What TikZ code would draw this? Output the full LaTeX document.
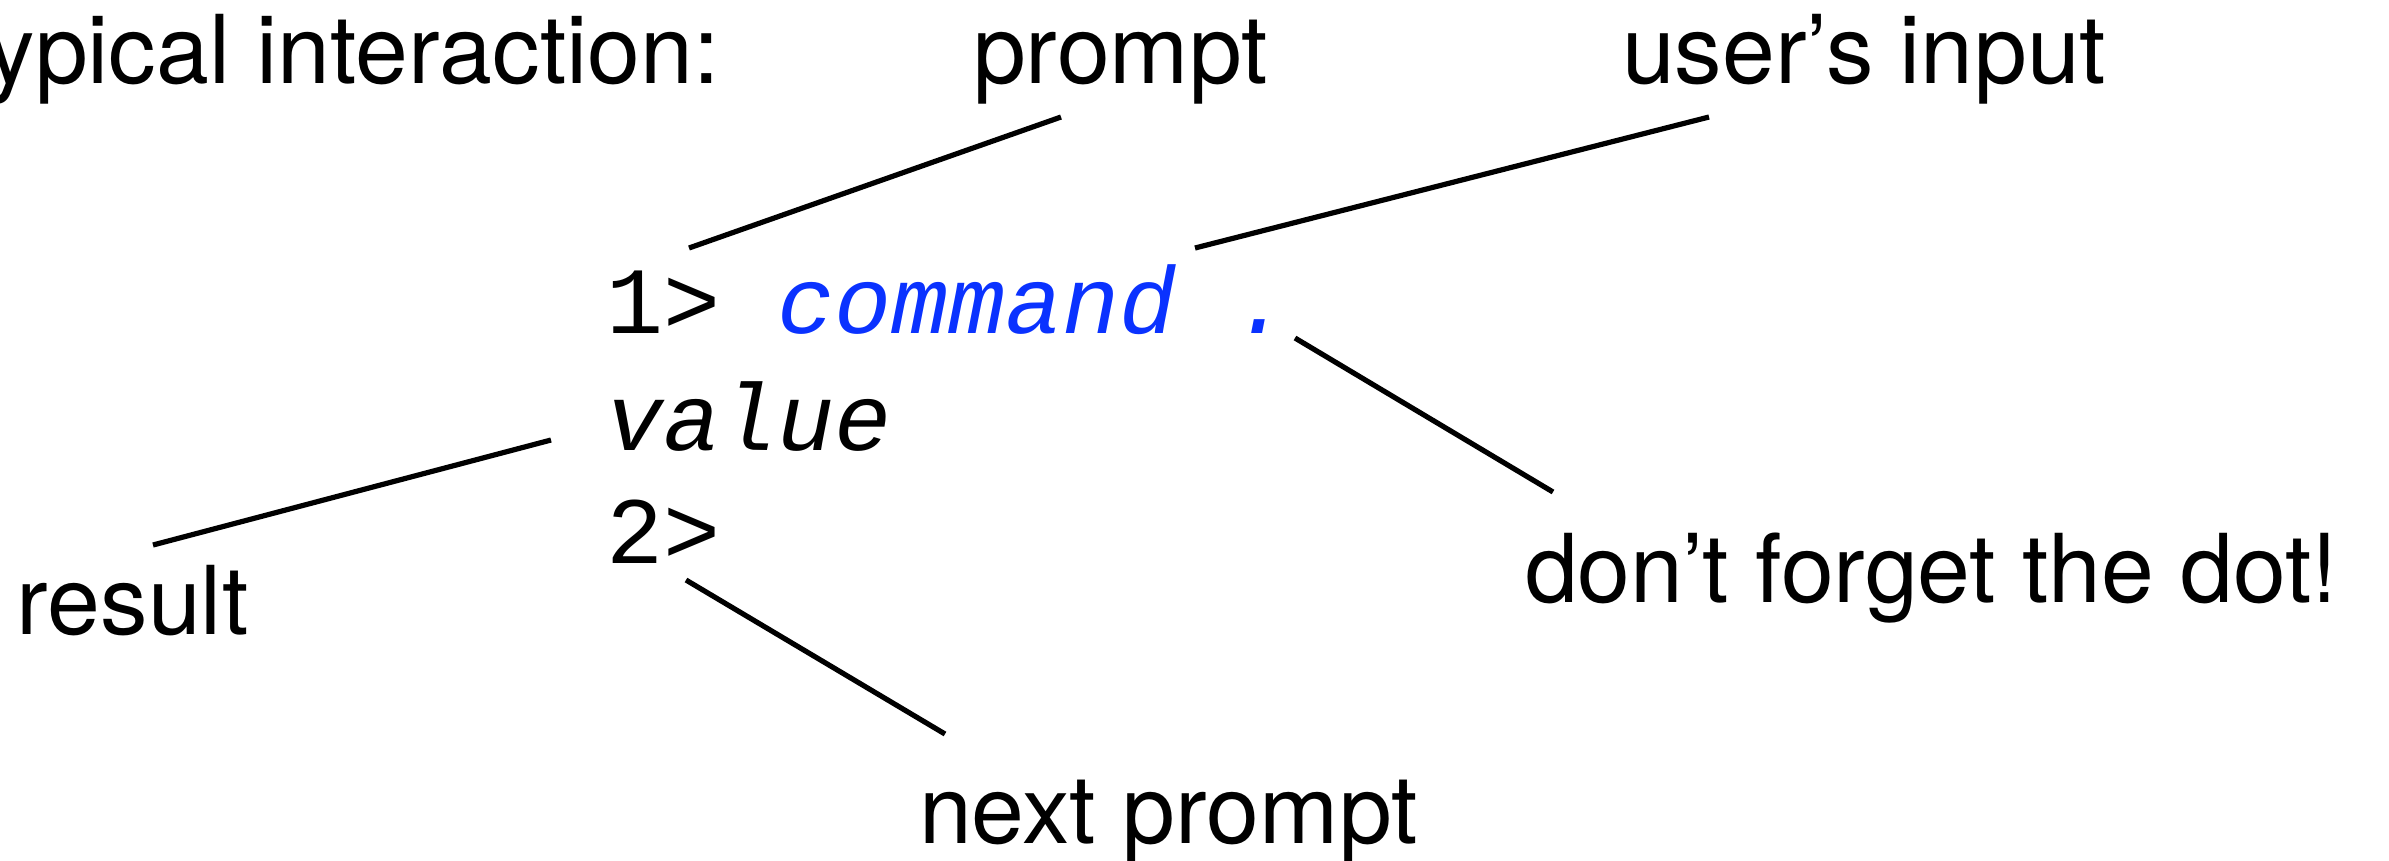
\documentclass[tikz,border=0pt]{standalone}
\usepackage{fontspec}
\setmainfont{TeX Gyre Heros}
\setmonofont{Liberation Mono}
\definecolor{cmdblue}{RGB}{10,50,255}
\begin{document}
\begin{tikzpicture}[x=0.25pt,y=-0.25pt,
  lbl/.style={anchor=base west,inner sep=0pt,outer sep=0pt,font=\fontsize{23.75}{28}\selectfont},
  code/.style={anchor=base west,inner sep=0pt,outer sep=0pt,font=\fontsize{23.75}{28}\selectfont\ttfamily},
  conn/.style={line width=1.3pt}]
\useasboundingbox (0,0) rectangle (2389,860);
% labels
\node[lbl] (title) at (-61,83) {Typical interaction:};
\node[lbl] (prompt) at (973,83) {prompt};
\node[lbl] (input) at (1622,83) {user’s input};
\node[lbl] (result) at (17,634) {result};
\node[lbl] (dotlbl) at (1525,602) {don’t forget the dot!};
\node[lbl] (next) at (919,843) {next prompt};
% code
\node[code] (line1) at (606,333) {1> \textcolor{cmdblue}{\itshape command .}};
\node[code] (line2) at (606,450) {\itshape value};
\node[code] (line3) at (606,563) {2>};
% connector ends
\coordinate (pA) at (1061,117);  \coordinate (pB) at (689,248);
\coordinate (uA) at (1709,117);  \coordinate (uB) at (1195,248);
\coordinate (dA) at (1295,338);  \coordinate (dB) at (1553,492);
\coordinate (rA) at (551,440);   \coordinate (rB) at (153,545);
\coordinate (nA) at (686,580);   \coordinate (nB) at (945,734);
\draw[conn] (pA) -- (pB);
\draw[conn] (uA) -- (uB);
\draw[conn] (dA) -- (dB);
\draw[conn] (rA) -- (rB);
\draw[conn] (nA) -- (nB);
\end{tikzpicture}
\end{document}
